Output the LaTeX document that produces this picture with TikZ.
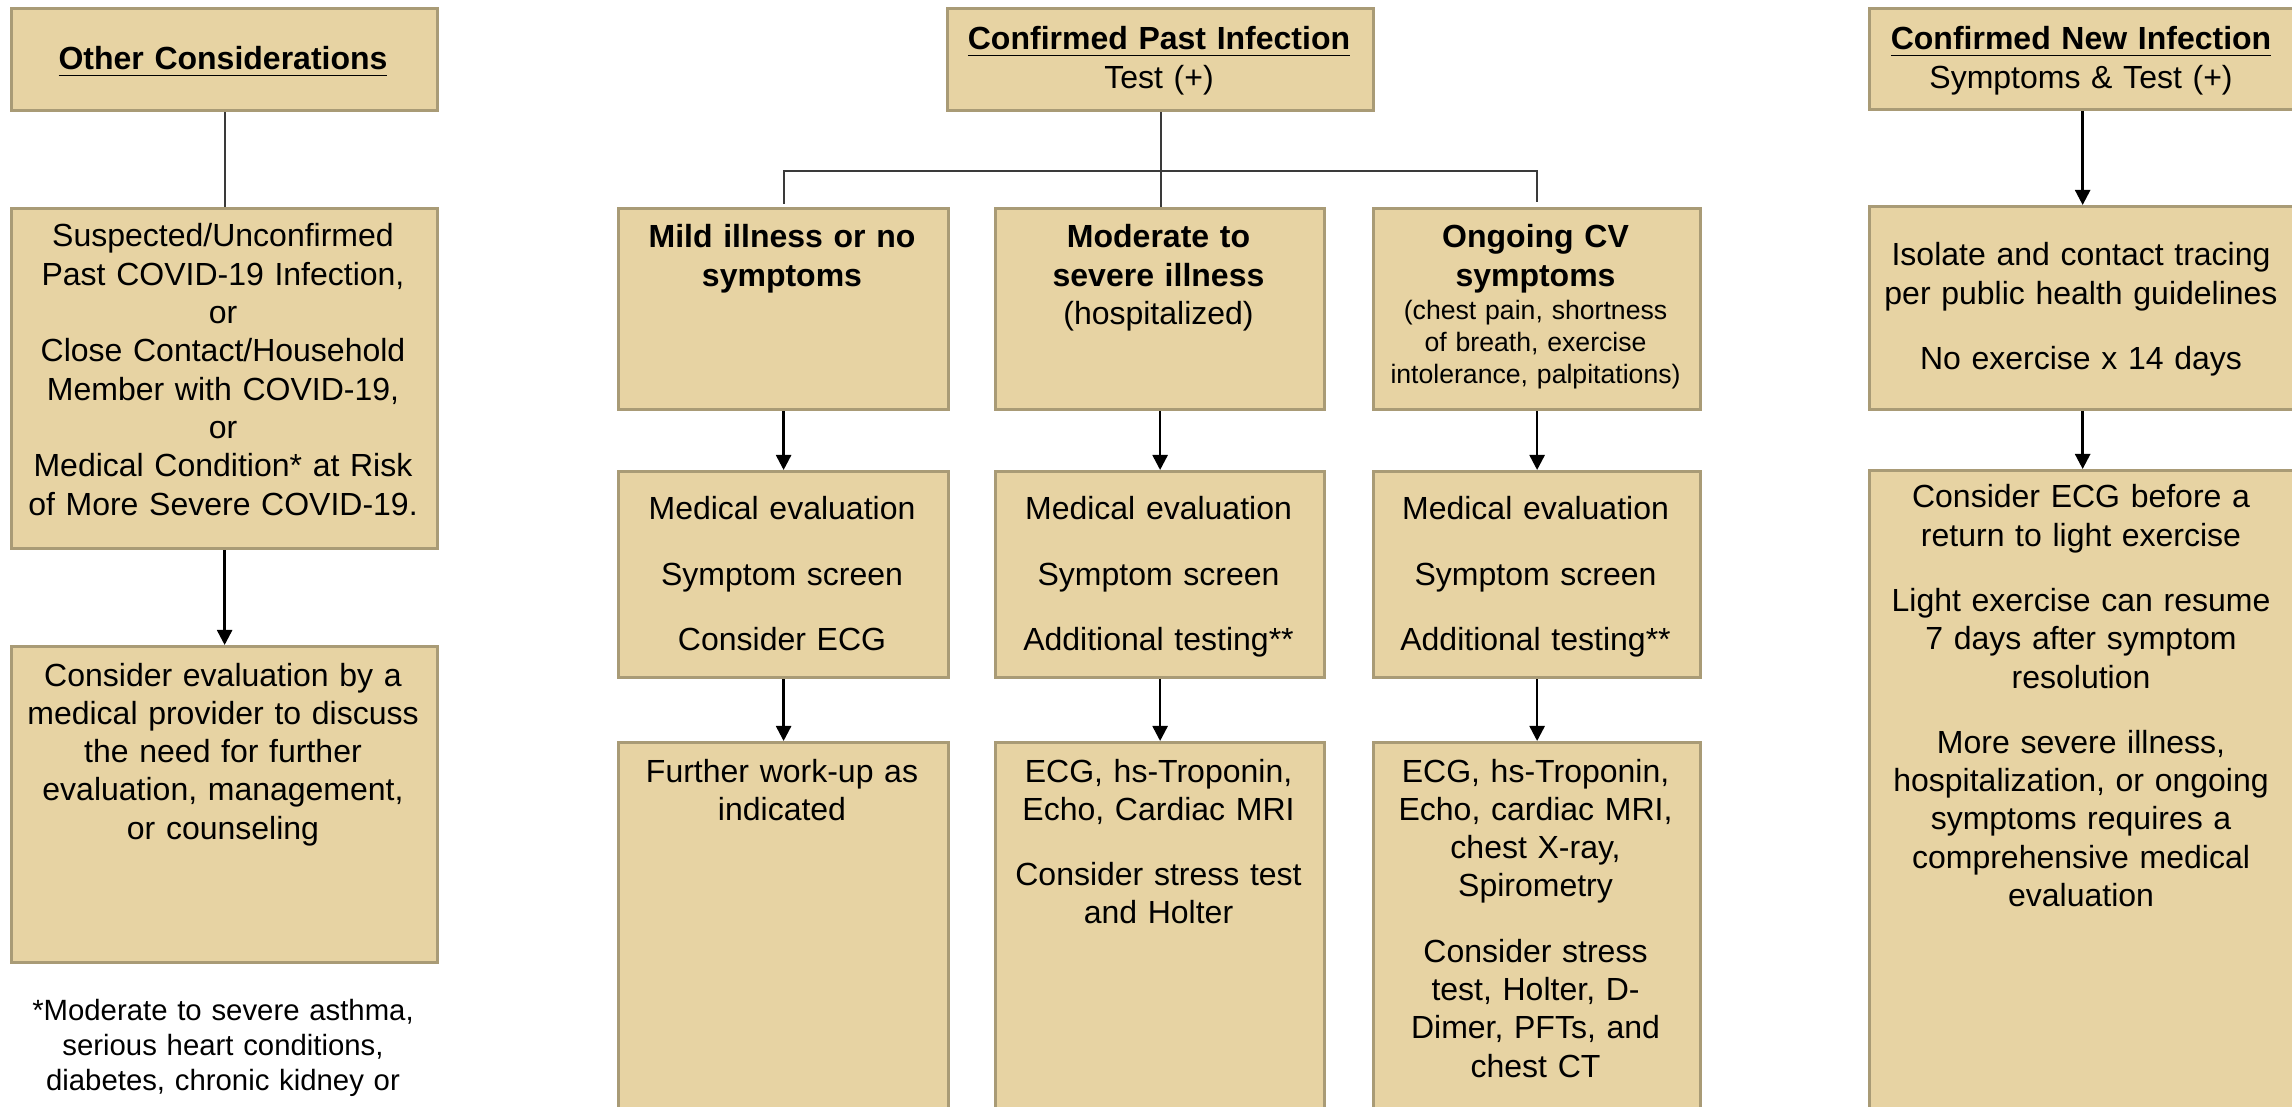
\documentclass[tikz,border=0pt]{standalone}
\usepackage{fontspec}
\setmainfont{Liberation Sans}
\usetikzlibrary{arrows.meta}
\definecolor{cardfill}{HTML}{E7D3A3}
\definecolor{cardedge}{HTML}{A99B76}
\definecolor{tiegray}{HTML}{3A3A3A}

\tikzset{
  card/.style={draw=cardedge, fill=cardfill, line width=0.03cm, anchor=north west, inner sep=0pt},
  txt/.style={anchor=base, align=center, inner sep=0pt, text width=3.1cm,
    font=\fontsize{9.1pt}{10.9pt}\selectfont},
  wide/.style={txt, text width=4.2cm},
  small/.style={txt, font=\fontsize{7.57pt}{8.96pt}\selectfont},
  foot/.style={wide, font=\fontsize{8.34pt}{9.96pt}\selectfont},
  tie/.style={draw=tiegray, line width=0.02cm},
  flow/.style={draw=black, line width=0.025cm, -{Triangle[width=0.15cm,length=0.15cm]}},
}

\begin{document}
\begin{tikzpicture}[x=0.01cm,y=-0.01cm]
  \useasboundingbox (0,0) rectangle (2292,1107);
  \clip (0,0) rectangle (2292,1107);

  % other considerations
  \node[card, minimum width=4.26cm, minimum height=1.02cm] (other) at (10,7) {};
  \node[card, minimum width=4.26cm, minimum height=3.40cm] (suspect) at (10,207) {};
  \node[card, minimum width=4.26cm, minimum height=3.16cm] (counsel) at (10,645) {};
  \node[wide] (otherT) at (223,70) {\textbf{\underline{Other Considerations}}};
  \node[wide] (suspectT) at (223,247) {Suspected/Unconfirmed\\Past COVID-19 Infection,\\or\\Close Contact/Household\\Member with COVID-19,\\or\\Medical Condition* at Risk\\of More Severe COVID-19.};
  \node[wide] (counselT) at (223,686) {Consider evaluation by a\\medical provider to discuss\\the need for further\\evaluation, management,\\or counseling};
  \node[foot] (footT) at (223,1020) {*Moderate to severe asthma,\\serious heart conditions,\\diabetes, chronic kidney or};
  \draw[tie] (other.south) -- (suspect.north);
  \draw[flow] (suspect.south) -- (counsel.north);

  % confirmed past infection
  \node[card, minimum width=4.26cm, minimum height=1.02cm] (past) at (946,7) {};
  \node[wide] (pastT) at (1159,50) {\textbf{\underline{Confirmed Past Infection}}\\Test (+)};
  \node[card, minimum width=3.30cm, minimum height=2.01cm] (mild) at (617,207) {};
  \node[card, minimum width=3.29cm, minimum height=2.01cm] (moderate) at (994,207) {};
  \node[card, minimum width=3.27cm, minimum height=2.01cm] (ongoing) at (1372,207) {};
  \node[txt] (mildT) at (782,248) {\textbf{Mild illness or no}\\\textbf{symptoms}};
  \node[txt] (moderateT) at (1158.5,248) {\textbf{Moderate to}\\\textbf{severe illness}\\(hospitalized)};
  \node[txt] (ongoingT) at (1535.5,248) {\textbf{Ongoing CV}\\\textbf{symptoms}};
  \node[small] (ongoingN) at (1535.5,320) {(chest pain, shortness\\of breath, exercise\\intolerance, palpitations)};
  \coordinate (fork) at (1159,171);
  \draw[tie] (past.south) -- (past.south |- moderate.north);
  \draw[tie, shorten <=0.03cm, shorten >=0.05cm] (mild.north) |- (fork) -| (ongoing.north);

  \node[card, minimum width=3.30cm, minimum height=2.06cm] (mildEval) at (617,470) {};
  \node[card, minimum width=3.29cm, minimum height=2.06cm] (moderateEval) at (994,470) {};
  \node[card, minimum width=3.27cm, minimum height=2.06cm] (ongoingEval) at (1372,470) {};
  \node[txt] (mildEvalT) at (782,520) {Medical evaluation\\[0.267cm]Symptom screen\\[0.267cm]Consider ECG};
  \node[txt] (moderateEvalT) at (1158.5,520) {Medical evaluation\\[0.267cm]Symptom screen\\[0.267cm]Additional testing**};
  \node[txt] (ongoingEvalT) at (1535.5,520) {Medical evaluation\\[0.267cm]Symptom screen\\[0.267cm]Additional testing**};
  \draw[flow] (mild.south) -- (mildEval.north);
  \draw[flow] (moderate.south) -- (moderateEval.north);
  \draw[flow] (ongoing.south) -- (ongoingEval.north);

  \node[card, minimum width=3.30cm, minimum height=4.00cm] (mildWork) at (617,741) {};
  \node[card, minimum width=3.29cm, minimum height=4.00cm] (moderateWork) at (994,741) {};
  \node[card, minimum width=3.27cm, minimum height=4.00cm] (ongoingWork) at (1372,741) {};
  \node[txt] (mildWorkT) at (782,782) {Further work-up as\\indicated};
  \node[txt] (moderateWorkT) at (1158.5,782) {ECG, hs-Troponin,\\Echo, Cardiac MRI\\[0.267cm]Consider stress test\\and Holter};
  \node[txt] (ongoingWorkT) at (1535.5,782) {ECG, hs-Troponin,\\Echo, cardiac MRI,\\chest X-ray,\\Spirometry\\[0.267cm]Consider stress\\test, Holter, D-\\Dimer, PFTs, and\\chest CT};
  \draw[flow] (mildEval.south) -- (mildWork.north);
  \draw[flow] (moderateEval.south) -- (moderateWork.north);
  \draw[flow] (ongoingEval.south) -- (ongoingWork.north);

  % confirmed new infection
  \node[card, minimum width=4.26cm, minimum height=1.01cm] (newinf) at (1868,7) {};
  \node[card, minimum width=4.26cm, minimum height=2.03cm] (isolate) at (1868,205) {};
  \node[card, minimum width=4.26cm, minimum height=7.00cm] (resume) at (1868,469) {};
  \node[wide] (newinfT) at (2081,50) {\textbf{\underline{Confirmed New Infection}}\\Symptoms \& Test (+)};
  \node[wide] (isolateT) at (2081,266) {Isolate and contact tracing\\per public health guidelines\\[0.267cm]No exercise x 14 days};
  \node[wide] (resumeT) at (2081,508) {Consider ECG before a\\return to light exercise\\[0.267cm]Light exercise can resume\\7 days after symptom\\resolution\\[0.267cm]More severe illness,\\hospitalization, or ongoing\\symptoms requires a\\comprehensive medical\\evaluation};
  \draw[flow] (newinf.south) -- (isolate.north);
  \draw[flow] (isolate.south) -- (resume.north);
\end{tikzpicture}
\end{document}
